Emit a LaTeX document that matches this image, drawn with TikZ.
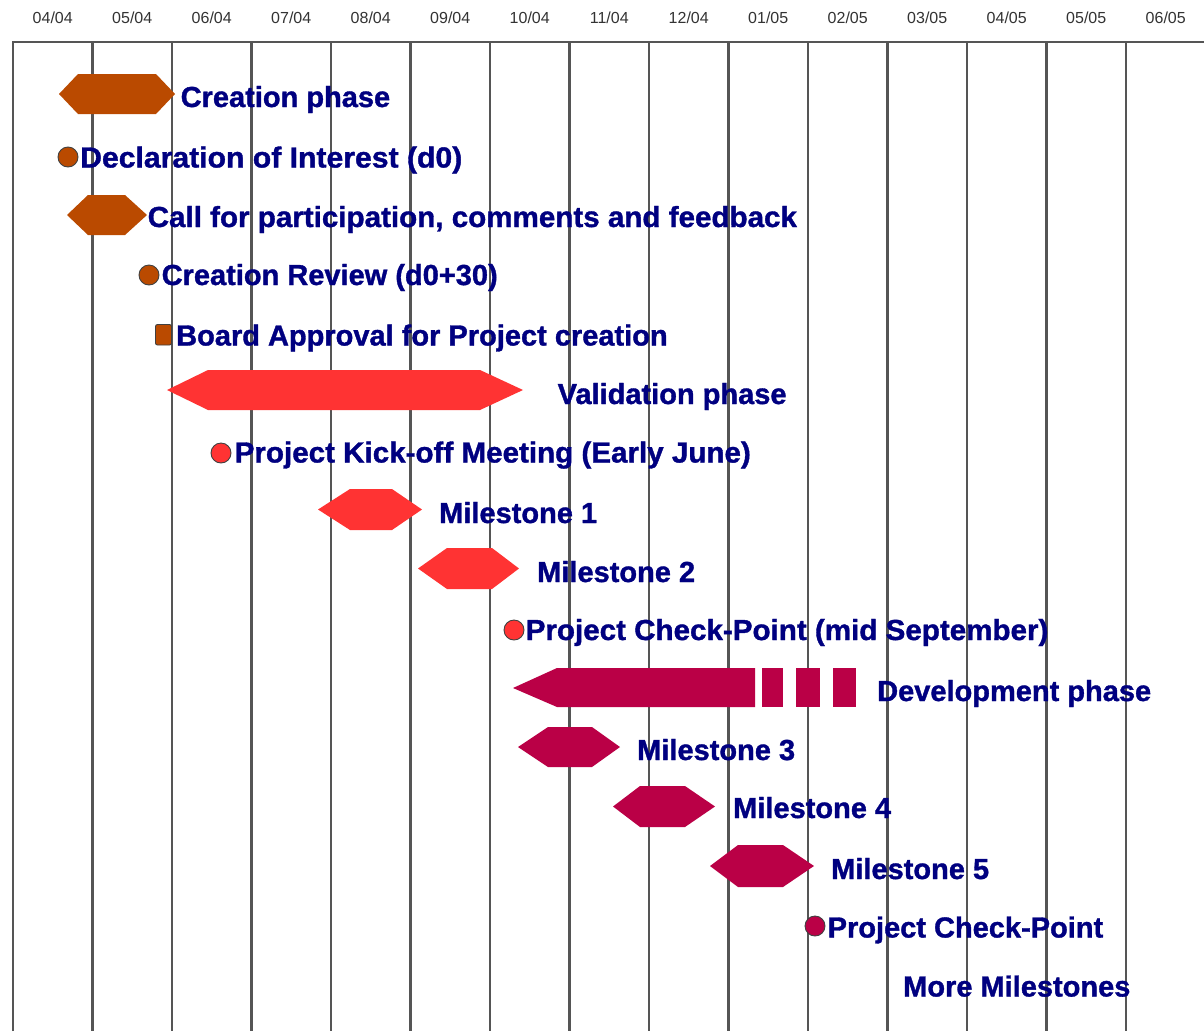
\documentclass[tikz,border=0pt]{standalone}
\usepackage{fontspec}
\setmainfont{Liberation Sans}
\newfontfamily\lblfont[FakeBold=1.2]{Liberation Sans Bold}
\definecolor{brn}{RGB}{186,74,0}
\definecolor{rd}{RGB}{255,51,51}
\definecolor{crm}{RGB}{186,0,70}
\definecolor{nvy}{RGB}{0,0,128}
\definecolor{gridc}{RGB}{85,85,85}
\tikzset{
  lbl/.style={anchor=base west, inner sep=0pt, text=nvy, font=\fontsize{29}{29}\lblfont},
  hdr/.style={inner sep=0pt, text=black!80, font=\fontsize{16}{16}\selectfont},
  gridline/.style={draw=gridc, line width=2.6pt},
  pin/.style={draw=black!75, line width=0.9pt},
}
% color, left tip, flat start, flat end, right tip, top, bottom
\newcommand\hexbar[7]{%
  \fill[#1] (#2,{(#6+#7)/2}) -- (#3,#6) -- (#4,#6) -- (#5,{(#6+#7)/2}) -- (#4,#7) -- (#3,#7) -- cycle;}
\begin{document}
\begin{tikzpicture}[x=1pt,y=-1pt]
\useasboundingbox (0,0) rectangle (1204,1031);
\fill[white] (0,0) rectangle (1204,1031);
% grid
\draw[gridline] (13,1031) -- (13,42) -- (1204,42);
\foreach \k in {1,...,14} {
  \draw[gridline] ({13+79.5*\k},42) -- ({13+79.5*\k},1031);
}
% header labels
\foreach \t [count=\i from 0] in {04/04,05/04,06/04,07/04,08/04,09/04,10/04,11/04,12/04,01/05,02/05,03/05,04/05,05/05,06/05} {
  \node[hdr] (h\i) at ({13+79.5*(\i+0.5)},18) {\t};
}
% creation phase (brown)
\hexbar{brn}{59}{78}{156}{175}{74}{114}
\fill[brn] (68,157) circle (10); \draw[pin] (68,157) circle (10);
\hexbar{brn}{67}{88}{125}{147}{195}{235}
\fill[brn] (149,275) circle (10); \draw[pin] (149,275) circle (10);
\fill[brn, rounded corners=2pt] (155.5,324.5) rectangle (171.5,345);
\draw[pin, rounded corners=2pt] (155.5,324.5) rectangle (171.5,345);
% validation phase (red)
\hexbar{rd}{167}{208}{480}{523}{370}{410}
\fill[rd] (221,453) circle (10); \draw[pin] (221,453) circle (10);
\hexbar{rd}{318}{350}{392}{422}{489}{530}
\hexbar{rd}{418}{447}{492}{519}{548}{589}
\fill[rd] (514,630) circle (10); \draw[pin] (514,630) circle (10);
% development phase (crimson)
\fill[crm] (513,688) -- (557,668) -- (755,668) -- (755,707) -- (557,707) -- cycle;
\fill[crm] (762,668) rectangle (783,707);
\fill[crm] (796,668) rectangle (820,707);
\fill[crm] (833,668) rectangle (856,707);
\hexbar{crm}{518}{548}{592}{620}{727}{767}
\hexbar{crm}{613}{640}{685}{715}{786}{827}
\hexbar{crm}{710}{738}{783}{814}{845}{887}
\fill[crm] (815,926) circle (10); \draw[pin] (815,926) circle (10);
% labels
\node[lbl] (t1) at (180.5,107) {Creation phase};
\node[lbl, xscale=1.04] (t2) at (80,167.5) {Declaration of Interest (d0)};
\node[lbl, xscale=1.02] (t3) at (147.5,227) {Call for participation, comments and feedback};
\node[lbl] (t4) at (161.5,285) {Creation Review (d0+30)};
\node[lbl] (t5) at (176,345.5) {Board Approval for Project creation};
\node[lbl] (t6) at (557.5,404) {Validation phase};
\node[lbl, xscale=1.02] (t7) at (234.5,462.5) {Project Kick-off Meeting (Early June)};
\node[lbl] (t8) at (439,523) {Milestone 1};
\node[lbl] (t9) at (537,582) {Milestone 2};
\node[lbl, xscale=1.02] (t10) at (525.5,640) {Project Check-Point (mid September)};
\node[lbl] (t11) at (877,701) {Development phase};
\node[lbl] (t12) at (637,760) {Milestone 3};
\node[lbl] (t13) at (733,818) {Milestone 4};
\node[lbl] (t14) at (831,879) {Milestone 5};
\node[lbl] (t15) at (827.5,937.5) {Project Check-Point};
\node[lbl] (t16) at (903,996.5) {More Milestones};
\end{tikzpicture}
\end{document}
